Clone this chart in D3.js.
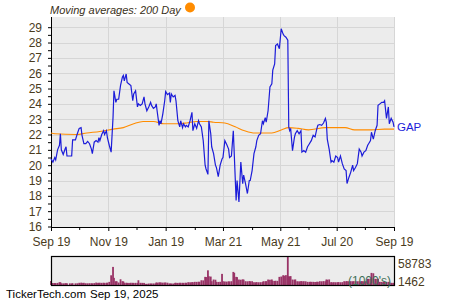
<!DOCTYPE html>
<html>
<head>
<meta charset="utf-8">
<script src="https://cdn.jsdelivr.net/npm/d3@7"></script>
<style>
  body { margin: 0; background: #fff; }
  svg text { font-family: "Liberation Sans", Arial, sans-serif; }
</style>
</head>
<body>
<div id="chart"></div>
<script>
// GAP daily close, one year
const ticker = "GAP";
const dates = [
  "2024-09-19","2024-09-21","2024-09-23","2024-09-24","2024-09-26","2024-09-28","2024-09-29","2024-09-30","2024-10-02","2024-10-04",
  "2024-10-05","2024-10-06","2024-10-09","2024-10-11","2024-10-12","2024-10-15","2024-10-17","2024-10-19","2024-10-21","2024-10-22",
  "2024-10-24","2024-10-26","2024-10-28","2024-10-30","2024-11-01","2024-11-02","2024-11-04","2024-11-06","2024-11-08","2024-11-09",
  "2024-11-10","2024-11-12","2024-11-14","2024-11-15","2024-11-17","2024-11-18","2024-11-20","2024-11-22","2024-11-24","2024-11-25",
  "2024-11-27","2024-11-28","2024-11-30","2024-12-02","2024-12-04","2024-12-05","2024-12-06","2024-12-08","2024-12-09","2024-12-11",
  "2024-12-13","2024-12-15","2024-12-16","2024-12-18","2024-12-20","2024-12-21","2024-12-23","2024-12-25","2024-12-27","2024-12-28",
  "2024-12-30","2025-01-01","2025-01-03","2025-01-04","2025-01-06","2025-01-08","2025-01-09","2025-01-10","2025-01-12","2025-01-13",
  "2025-01-14","2025-01-16","2025-01-18","2025-01-19","2025-01-21","2025-01-23","2025-01-24","2025-01-25","2025-01-27","2025-01-29",
  "2025-01-30","2025-02-01","2025-02-03","2025-02-04","2025-02-06","2025-02-07","2025-02-09","2025-02-10","2025-02-12","2025-02-14",
  "2025-02-16","2025-02-17","2025-02-19","2025-02-21","2025-02-23","2025-02-24","2025-02-26","2025-02-28","2025-03-02","2025-03-03",
  "2025-03-05","2025-03-06","2025-03-08","2025-03-09","2025-03-11","2025-03-13","2025-03-14","2025-03-16","2025-03-18","2025-03-20",
  "2025-03-21","2025-03-23","2025-03-25","2025-03-27","2025-03-28","2025-03-30","2025-04-01","2025-04-02","2025-04-04","2025-04-05",
  "2025-04-07","2025-04-09","2025-04-11","2025-04-12","2025-04-14","2025-04-16","2025-04-18","2025-04-19","2025-04-21","2025-04-23",
  "2025-04-25","2025-04-26","2025-04-28","2025-04-30","2025-05-02","2025-05-03","2025-05-05","2025-05-06","2025-05-08","2025-05-10",
  "2025-05-12","2025-05-13","2025-05-15","2025-05-16","2025-05-18","2025-05-20","2025-05-22","2025-05-24","2025-05-25","2025-05-27",
  "2025-05-29","2025-05-30","2025-05-31","2025-06-01","2025-06-03","2025-06-05","2025-06-06","2025-06-08","2025-06-10","2025-06-12",
  "2025-06-13","2025-06-15","2025-06-17","2025-06-19","2025-06-21","2025-06-22","2025-06-23","2025-06-25","2025-06-27","2025-06-29",
  "2025-06-30","2025-07-02","2025-07-04","2025-07-06","2025-07-08","2025-07-09","2025-07-10","2025-07-12","2025-07-14","2025-07-15",
  "2025-07-17","2025-07-19","2025-07-21","2025-07-22","2025-07-24","2025-07-26","2025-07-28","2025-07-30","2025-07-31","2025-08-02",
  "2025-08-04","2025-08-06","2025-08-07","2025-08-09","2025-08-11","2025-08-13","2025-08-15","2025-08-16","2025-08-18","2025-08-20",
  "2025-08-22","2025-08-23","2025-08-25","2025-08-26","2025-08-28","2025-08-30","2025-09-01","2025-09-02","2025-09-04","2025-09-06",
  "2025-09-08","2025-09-09","2025-09-11","2025-09-13","2025-09-14","2025-09-16","2025-09-18","2025-09-19"
];
const closes = [
  20.4,20.2,20.5,20.35,21.0,21.3,22.05,21.0,20.7,21.05,
  21.2,20.6,20.6,20.6,21.65,21.65,22.05,22.4,22.45,21.95,
  21.4,21.4,21.55,21.4,21.05,20.75,21.5,21.6,21.5,21.8,
  21.6,22.0,22.25,22.0,22.25,21.8,21.3,20.85,23.1,24.85,
  24.1,24.3,24.3,25.2,25.75,25.85,25.5,25.95,25.4,25.3,
  25.2,24.2,24.65,24.85,23.8,24.0,23.9,24.0,24.45,24.0,
  23.55,23.8,24.1,23.9,23.7,23.8,24.0,23.5,22.6,22.9,
  22.7,23.35,24.2,24.8,24.6,24.7,24.1,24.65,24.45,24.55,
  24.2,22.9,22.5,22.9,22.45,22.7,22.5,22.6,22.5,22.9,
  23.45,22.25,22.7,22.4,22.9,22.7,22.5,21.6,20.0,19.75,
  19.4,22.9,22.05,21.2,20.75,20.0,19.85,19.25,20.0,20.4,
  20.5,21.6,21.35,21.05,20.5,20.6,22.25,20.75,17.7,19.0,
  17.6,20.2,18.8,19.35,18.8,18.15,19.0,19.0,19.65,20.75,
  21.2,21.6,21.95,22.05,22.9,22.7,23.1,22.8,23.55,25.1,
  25.3,26.2,26.6,27.8,27.9,27.6,28.9,28.55,28.45,28.35,
  28.15,22.5,22.25,22.4,20.95,21.8,22.05,22.25,22.05,22.25,
  20.85,20.95,20.85,21.2,21.4,21.5,21.6,21.95,21.85,22.4,
  22.6,22.65,22.6,22.75,23.05,22.8,21.7,21.05,20.2,20.3,
  20.2,20.6,20.5,20.2,20.6,20.1,19.75,19.65,18.8,19.2,
  19.55,20.0,19.65,19.85,20.1,21.05,20.85,20.6,20.85,20.95,
  21.3,21.4,21.6,22.15,21.7,22.25,22.6,23.9,24.0,24.1,
  24.1,24.2,23.05,23.8,22.7,23.05,22.8,22.5
];
// volume in 1000's
const volumes = [
  7400,3200,3200,3000,3400,4800,4800,2600,2500,2700,
  2400,2600,2500,2300,2700,2500,2600,3600,3800,3500,
  3600,2700,2600,2800,2600,2500,3000,4100,3600,3400,
  3700,3500,3800,3300,3600,3900,5600,19700,37600,14200,
  7000,6800,4200,11200,7000,6600,3800,3600,3500,3400,
  3700,3600,3300,3500,3400,9100,3600,3500,3400,1462,
  1500,2100,2200,2000,2300,2100,4200,4000,4400,4100,
  4300,4000,4200,4100,3800,2200,2000,2200,2100,3500,
  3600,3400,3700,3500,3600,3400,3700,3600,4900,4700,
  5000,4800,5700,5600,5900,5700,9100,8800,16300,16000,
  30300,17600,17000,7000,10600,10200,5700,5500,5800,22700,
  7000,6500,6200,6800,6400,7000,26900,25000,16300,15800,
  10600,10200,11000,10400,7000,6800,7200,6900,7000,4900,
  4700,5000,4800,4900,5100,7000,6800,7200,10600,10200,
  10800,7900,7600,8000,7800,16300,17000,19700,19000,20000,
  58783,17600,17000,17900,10600,10200,10800,7000,6800,7200,
  6900,7100,6800,5700,5500,5800,5600,5700,5400,5900,
  5600,7000,6800,7200,6900,10600,10200,10800,4900,4700,
  5000,4800,4900,5100,4800,5000,7000,6800,7200,6900,
  7100,6800,7000,7100,6900,7000,6800,7200,6900,7000,
  12100,11800,12400,24800,24000,12100,11800,12400,5700,5500,
  5800,5600,5700,5400,5800,3600,3400,3500
];
// 200 day moving average
const maDates = [
  "2024-09-19","2024-09-23","2024-10-16","2024-10-27","2024-11-10","2024-11-24","2024-12-05","2024-12-16",
  "2024-12-26","2025-01-06","2025-01-17","2025-01-31","2025-02-10","2025-02-21","2025-03-04","2025-03-11",
  "2025-03-23","2025-04-03","2025-04-13","2025-04-24","2025-05-12","2025-05-22","2025-05-30","2025-06-09",
  "2025-06-20","2025-07-08","2025-07-29","2025-08-08","2025-08-26","2025-09-09","2025-09-19"
];
const maValues = [
  22.1,22.05,22.0,22.1,22.2,22.35,22.45,22.7,
  22.85,22.85,22.7,22.7,22.75,22.85,22.85,22.8,
  22.75,22.5,22.25,22.1,22.1,22.3,22.45,22.4,
  22.3,22.45,22.45,22.3,22.3,22.35,22.35
];
const xTickDates = ["2024-09-19","2024-11-19","2025-01-19","2025-03-21","2025-05-21","2025-07-20","2025-09-19"];
const xMinorDates = ["2024-10-19","2024-12-19","2025-02-19","2025-04-21","2025-06-20","2025-08-19"];
const yTicks = d3.range(16, 30);
const volMax = 58783, volMin = 1462;

var width = 450, height = 300;
var textCol = "#4a3b1c";
var svg = d3.select("#chart").append("svg")
  .attr("width", width)
  .attr("height", height);

var parse = d3.timeParse("%Y-%m-%d");
var fmt = d3.timeFormat("%b %d");
var prices = dates.map((d, i) => ({ date: parse(d), close: closes[i], vol: volumes[i] }));
var ma = maDates.map((d, i) => ({ date: parse(d), v: maValues[i] }));

var x = d3.scaleTime().domain(d3.extent(prices, d => d.date)).range([51, 394]);
var y = d3.scaleLinear().domain([16, 29]).range([226.5, 27.2]);

// plot background + grid
svg.append("rect")
  .attr("x", 51).attr("y", 17)
  .attr("width", 343).attr("height", 210)
  .attr("fill", "#ececec");

svg.append("g").selectAll("line")
  .data(yTicks.slice(1))
  .enter().append("line")
  .attr("x1", 51).attr("x2", 394)
  .attr("y1", d => Math.round(y(d)) + 0.5).attr("y2", d => Math.round(y(d)) + 0.5)
  .attr("stroke", "#d6d6d6");

svg.append("g").selectAll("line")
  .data(xTickDates.slice(1))
  .enter().append("line")
  .attr("x1", d => Math.round(x(parse(d))) + 0.5).attr("x2", d => Math.round(x(parse(d))) + 0.5)
  .attr("y1", 17).attr("y2", 227)
  .attr("stroke", "#d6d6d6");

// axes
var yAxis = d3.axisLeft(y)
  .tickValues(d3.range(16, 29.01, 0.5))
  .tickSize(3).tickPadding(6)
  .tickFormat(d => d % 1 ? "" : d);
var gy = svg.append("g").attr("transform", "translate(51,0)").call(yAxis);
gy.select(".domain").attr("d", "M0.5,17V227");

var xAxis = d3.axisBottom(x)
  .tickValues(xTickDates.map(parse))
  .tickSize(4).tickPadding(6)
  .tickFormat(d => fmt(d).replace(/ 0/, " "));
var gx = svg.append("g").attr("transform", "translate(0,227)").call(xAxis);
gx.select(".domain").attr("d", "M51,0.5H394");

var gxm = svg.append("g").attr("transform", "translate(0,227)")
  .call(d3.axisBottom(x).tickValues(xMinorDates.map(parse)).tickSize(3).tickFormat(""));
gxm.select(".domain").remove();

svg.selectAll(".tick text")
  .attr("font-size", 12)
  .attr("font-family", "Liberation Sans, Arial, sans-serif")
  .attr("fill", textCol);
svg.selectAll(".tick line, .domain").attr("stroke", "#000");

// 200 day MA
var maLine = d3.line()
  .x(d => x(d.date))
  .y(d => y(d.v))
  .curve(d3.curveMonotoneX);
svg.append("path")
  .attr("d", maLine(ma))
  .attr("fill", "none")
  .attr("stroke", "#ff8c00")
  .attr("stroke-width", 1.1);

// price line
var priceLine = d3.line()
  .x(d => x(d.date))
  .y(d => y(d.close));
svg.append("path")
  .attr("d", priceLine(prices))
  .attr("fill", "none")
  .attr("stroke", "#1c1cd9")
  .attr("stroke-width", 1.2);

svg.append("text")
  .attr("x", 397).attr("y", 127)
  .attr("dy", "0.35em")
  .attr("font-size", 11.5)
  .attr("fill", "#1c1cd9")
  .text(ticker);

// legend
svg.append("text")
  .attr("x", 50).attr("y", 14)
  .attr("font-size", 11)
  .attr("font-style", "italic")
  .attr("fill", "#3a3020")
  .text("Moving averages: 200 Day");
svg.append("circle")
  .attr("cx", 190).attr("cy", 7.5).attr("r", 5)
  .attr("fill", "#ff8c00");

// volume panel
var yv = d3.scaleLinear().domain([0, volMax]).range([284.5, 257]);
svg.append("rect")
  .attr("x", 51.5).attr("y", 256.5)
  .attr("width", 343).attr("height", 29)
  .attr("fill", "#ececec");

svg.append("g").selectAll("rect")
  .data(prices)
  .enter().append("rect")
  .attr("x", d => x(d.date) - 0.9)
  .attr("y", d => yv(d.vol))
  .attr("width", 1.8)
  .attr("height", d => 285 - yv(d.vol))
  .attr("fill", "#993366");

svg.append("rect")
  .attr("x", 51.5).attr("y", 256.5)
  .attr("width", 343).attr("height", 29)
  .attr("fill", "none")
  .attr("stroke", "#000")
  .attr("stroke-width", 1.2);

svg.append("text")
  .attr("x", 348).attr("y", 280.5).attr("dy", "0.35em")
  .attr("font-size", 12)
  .attr("fill", "#3c6e57")
  .text("(1000's)");

svg.append("text")
  .attr("x", 398).attr("y", 263.5).attr("dy", "0.35em")
  .attr("font-size", 12).attr("fill", textCol)
  .text(volMax);
svg.append("text")
  .attr("x", 398).attr("y", 281.5).attr("dy", "0.35em")
  .attr("font-size", 12).attr("fill", textCol)
  .text(volMin);

// footer
svg.append("text")
  .attr("x", 6).attr("y", 298)
  .attr("font-size", 11.5).attr("fill", "#000")
  .text("TickerTech.com");
svg.append("text")
  .attr("x", 90).attr("y", 298)
  .attr("font-size", 11.5).attr("fill", "#000")
  .text("Sep 19, 2025");
</script>
</body>
</html>
